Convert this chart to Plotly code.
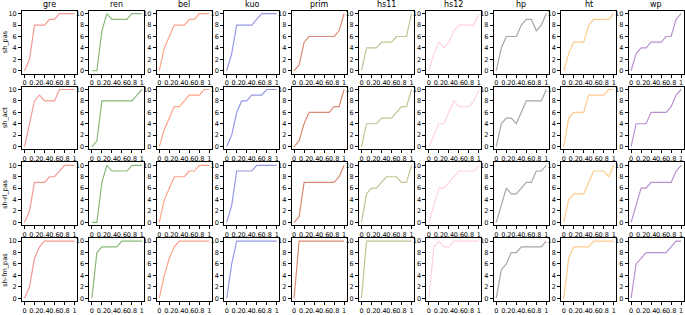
import plotly.graph_objects as go

x_vals = [0, 0.1, 0.2, 0.3, 0.4, 0.5, 0.6, 0.7, 0.8, 0.9, 1.0]
methods = ["gre", "ren", "bel", "kuo", "prim", "hs11", "hs12", "hp", "ht", "wp"]
settings = ["sh_pas", "sh_act", "sh-rl_pas", "sh-fm_pas"]
colors = ["#f39a92", "#8ab97a", "#ffa386", "#9498e6", "#d98a72",
          "#c6c294", "#ffd4de", "#a6a6a6", "#ffca8c", "#bb90cf"]
x_ticks = [0, 0.2, 0.4, 0.6, 0.8, 1]
x_ticktext = ["0", "0.2", "0.4", "0.6", "0.8", "1"]
y_ticks = [0, 2, 4, 6, 8, 10]

sh_pas = [
    [0, 2, 8, 8, 8, 9, 9, 10, 10, 10, 10],
    [0, 0, 7, 10, 9, 9, 9, 9, 10, 10, 10],
    [0, 4, 6, 8, 8, 8, 9, 9, 10, 10, 10],
    [0, 3, 8, 8, 8, 8, 9, 10, 10, 10, 10],
    [0, 1, 5, 6, 6, 6, 6, 6, 6, 7, 10],
    [0, 4, 4, 4, 5, 5, 5, 6, 6, 6, 10],
    [0, 3, 5, 4, 5, 7, 8, 8, 8, 8, 10],
    [0, 4, 6, 6, 6, 8, 9, 9, 7, 8, 10],
    [0, 3, 5, 5, 5, 8, 9, 9, 9, 9, 10],
    [0, 3, 4, 4, 5, 5, 5, 6, 6, 9, 10],
]
sh_act = [
    [0, 4, 8, 9, 8, 8, 8, 10, 10, 10, 10],
    [0, 1, 8, 8, 8, 8, 8, 8, 8, 9, 10],
    [0, 3, 5, 7, 7, 8, 9, 9, 9, 10, 10],
    [0, 2, 6, 8, 8, 9, 9, 9, 10, 10, 10],
    [0, 1, 4, 6, 6, 6, 6, 6, 7, 7, 10],
    [0, 4, 4, 4, 5, 5, 5, 6, 7, 7, 10],
    [0, 2, 4, 4, 6, 8, 7, 7, 7, 8, 10],
    [0, 4, 5, 5, 4, 6, 8, 8, 8, 8, 10],
    [0, 5, 6, 6, 6, 9, 9, 9, 9, 10, 10],
    [0, 4, 4, 4, 6, 6, 6, 6, 7, 9, 10],
]
sh_rl_pas = [
    [0, 2, 7, 7, 7, 8, 8, 9, 10, 10, 10],
    [0, 0, 7, 10, 9, 9, 9, 9, 10, 10, 10],
    [0, 4, 6, 8, 8, 8, 9, 9, 10, 10, 10],
    [0, 3, 9, 9, 9, 9, 10, 10, 10, 10, 10],
    [0, 1, 7, 7, 7, 7, 7, 7, 7, 8, 10],
    [0, 5, 6, 6, 7, 8, 8, 8, 7, 7, 10],
    [0, 3, 6, 6, 7, 8, 9, 9, 9, 9, 10],
    [0, 3, 6, 5, 5, 6, 7, 7, 9, 9, 10],
    [0, 4, 5, 5, 5, 7, 9, 9, 9, 8, 10],
    [0, 3, 6, 6, 7, 7, 7, 7, 7, 9, 10],
]
sh_fm_pas = [
    [0, 2, 7, 9, 10, 10, 10, 10, 10, 10, 10],
    [0, 8, 9, 9, 9, 9, 10, 10, 10, 10, 10],
    [0, 4, 7, 9, 10, 10, 10, 10, 10, 10, 10],
    [0, 6, 10, 10, 10, 10, 10, 10, 10, 10, 10],
    [0, 10, 10, 10, 10, 10, 10, 10, 10, 10, 10],
    [0, 10, 10, 10, 10, 10, 10, 10, 10, 10, 10],
    [0, 9, 10, 9, 9, 10, 10, 10, 10, 10, 10],
    [0, 5, 6, 8, 8, 9, 9, 9, 9, 9, 10],
    [0, 7, 9, 9, 9, 9, 10, 10, 10, 10, 10],
    [0, 6, 7, 8, 8, 8, 8, 8, 9, 10, 10],
]
all_data = [sh_pas, sh_act, sh_rl_pas, sh_fm_pas]

W, H = 685, 315
fig = go.Figure()
layout = {}
annotations = []
FONT = "DejaVu Sans"

for r in range(4):
    top = 10 + 77.3 * r
    bot = top + 64
    for c in range(10):
        idx = r * 10 + c + 1
        left = 22 + 67.4 * c
        right = left + 55
        xa = "xaxis" if idx == 1 else f"xaxis{idx}"
        ya = "yaxis" if idx == 1 else f"yaxis{idx}"
        xr = "x" if idx == 1 else f"x{idx}"
        yr = "y" if idx == 1 else f"y{idx}"
        fig.add_trace(go.Scatter(x=x_vals, y=all_data[r][c], mode="lines",
                                 line=dict(color=colors[c], width=1.2),
                                 xaxis=xr, yaxis=yr, showlegend=False,
                                 hoverinfo="skip"))
        common = dict(showgrid=False, zeroline=False, showline=True, mirror=True,
                      linecolor="black", linewidth=1, ticks="outside", ticklen=3,
                      tickwidth=0.8, tickcolor="black", tickangle=0,
                      tickfont=dict(family=FONT, size=6.5, color="black"))
        layout[xa] = dict(domain=[left / W, right / W], range=[-0.05, 1.05],
                          tickvals=x_ticks, ticktext=x_ticktext, anchor=yr, **common)
        layout[ya] = dict(domain=[1 - bot / H, 1 - top / H], range=[-0.5, 10.5],
                          tickvals=y_ticks, anchor=xr, **common)
        if r == 0:
            annotations.append(dict(text=methods[c], x=(left + right) / 2 / W,
                                    y=1 - 4 / H, xref="paper", yref="paper",
                                    showarrow=False, xanchor="center", yanchor="middle",
                                    font=dict(family=FONT, size=8, color="black")))
    annotations.append(dict(text=settings[r], x=5 / W, y=1 - (top + 32) / H,
                            xref="paper", yref="paper", showarrow=False,
                            textangle=-90, xanchor="center", yanchor="middle",
                            font=dict(family=FONT, size=6.5, color="black")))

fig.update_layout(width=W, height=H, margin=dict(l=0, r=0, t=0, b=0),
                  paper_bgcolor="white", plot_bgcolor="white",
                  annotations=annotations, **layout)
fig.write_html("out.html")
